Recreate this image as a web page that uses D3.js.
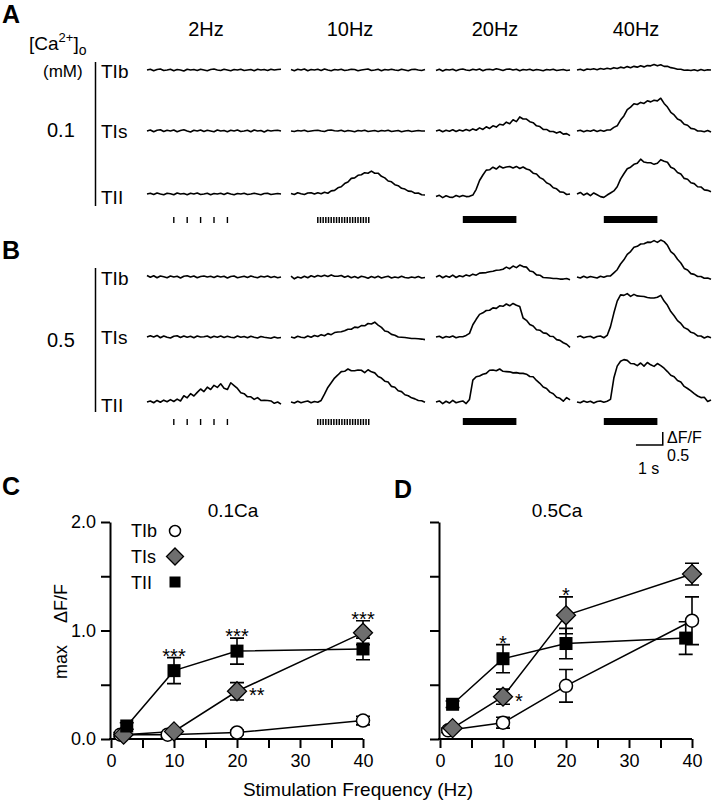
<!DOCTYPE html>
<html><head><meta charset="utf-8">
<script src="https://cdn.jsdelivr.net/npm/d3@7"></script>
<style>
body{margin:0;background:#fff}
svg text{font-family:'Liberation Sans',Arial,Helvetica,sans-serif;fill:#000}
</style></head>
<body><svg id="c" width="714" height="812"></svg>
<script>
// ---------------- DATA ----------------
const frequencies = ["2Hz", "10Hz", "20Hz", "40Hz"];
const cellTypes = ["TIb", "TIs", "TII"];
const traceDuration = 5; // seconds per sweep

// Fluorescence traces (ΔF/F), one array per frequency, 0.1 mM Ca
const ca01_TIb = [
  [0,0.03,-0.03,0.02,0.04,-0.02,0,0.03,-0.03,0.02,0,-0.04,0.03,0,0.02,-0.02,0.03,0,-0.03,0.02,0.04,0,-0.02,0.03,0,-0.03,0.02,0,0.03,-0.02,0,0.02,-0.03,0.03,0,0.02,-0.02,0.03,0,0.02,0.03],
  [0.02,-0.03,0.03,0,0.04,-0.03,0.02,0,0.03,-0.02,0.04,0,-0.03,0.02,0,0.03,-0.02,0,0.03,0.02,-0.03,0,0.02,0.04,-0.02,0,0.03,-0.03,0.02,0,0.03,0,-0.02,0.03,0,-0.03,0.02,0.03,0,-0.02,0.02],
  [-0.02,0.03,-0.04,0.02,0,0.03,-0.03,0.02,0.04,0,-0.02,0.03,0,0.04,-0.03,0.02,0.03,0,0.05,0.02,-0.02,0.03,0.04,0,0.03,-0.03,0.02,0,0.03,-0.02,0.02,0,-0.03,0.02,0,0.03,-0.02,0,0.02,-0.02,0],
  [0,0.03,-0.02,0.04,0.02,0.05,0.01,0.06,0.03,0.07,0.04,0.09,0.06,0.11,0.08,0.13,0.09,0.14,0.11,0.16,0.12,0.17,0.16,0.21,0.16,0.2,0.14,0.14,0.09,0.07,0.03,0.03,-0.01,0,-0.02,0.01,-0.03,0.02,-0.02,0.01,0]
];
const ca01_TIs = [
  [0,0.04,-0.03,0.03,0.05,-0.02,0.03,0,0.04,-0.03,0.02,0.05,0,-0.04,0.03,0,0.04,-0.02,0.03,0,-0.03,0.04,0,0.02,-0.03,0.03,0,0.04,-0.02,0,0.03,-0.03,0.04,0,0.02,-0.04,0.03,0,0.02,0.03,0],
  [0,-0.02,0.02,0,0.03,-0.02,0,0.02,0.03,0,-0.02,0.03,0.04,0.01,0,0.03,-0.02,0.02,0,-0.03,0.02,0,0.03,-0.02,0,0.02,-0.02,0.02,0,0.03,-0.02,0,0.02,-0.03,0,0.02,-0.02,0,0.02,0,0],
  [0,0.04,-0.03,0.03,-0.01,0.05,-0.02,0.04,0,0.06,0.01,0.08,0.03,0.12,0.06,0.16,0.1,0.2,0.15,0.26,0.23,0.34,0.28,0.43,0.36,0.54,0.46,0.46,0.36,0.32,0.2,0.17,0.06,0.06,-0.02,-0.02,-0.08,-0.03,-0.12,-0.1,-0.18],
  [0,0.03,-0.03,0.02,-0.01,0.04,-0.02,0.03,-0.01,0.04,0.04,0.14,0.2,0.42,0.58,0.82,0.92,1.05,1.02,1.1,1.06,1.16,1.12,1.18,1.16,1.26,1.06,0.92,0.72,0.62,0.46,0.4,0.26,0.22,0.1,0.08,0,0,-0.03,0.02,-0.04]
];
const ca01_TII = [
  [0,0.03,-0.02,0.04,0,-0.03,0.03,0.01,-0.03,0.04,0,0.02,-0.03,0.03,0,0.04,-0.02,0,0.03,-0.03,0.02,0,0.03,-0.02,0.04,0,-0.03,0.02,0,0.03,-0.02,0,0.03,0,-0.03,0.02,0.03,-0.02,0,0.02,0],
  [0.02,-0.02,0.05,0.01,-0.02,0.04,0.05,0,0.05,0.01,0.07,0.03,0.12,0.14,0.24,0.28,0.4,0.46,0.6,0.62,0.72,0.74,0.82,0.8,0.88,0.8,0.8,0.68,0.62,0.5,0.47,0.36,0.32,0.22,0.19,0.11,0.1,0.03,0.04,-0.03,-0.04],
  [-0.1,-0.05,-0.14,-0.07,-0.12,-0.13,-0.06,-0.11,-0.06,-0.1,-0.09,-0.04,0.18,0.52,0.73,0.92,0.93,1.03,0.96,1.07,1.0,1.04,1.06,1.0,1.06,0.98,1.04,0.96,0.92,0.8,0.77,0.63,0.57,0.43,0.37,0.24,0.2,0.08,0.07,-0.02,0],
  [0,0.06,-0.04,0.03,-0.06,0.04,-0.03,-0.1,-0.13,-0.04,0.04,0.12,0.28,0.57,0.78,0.97,1.03,1.14,1.18,1.34,1.23,1.2,1.2,1.14,1.18,1.32,1.26,1.22,1.03,0.97,0.83,0.77,0.6,0.57,0.43,0.4,0.28,0.27,0.16,0.14,0.09]
];

// 0.5 mM Ca
const ca05_TIb = [
  [0.06,-0.01,0.05,-0.03,0.04,0.01,-0.03,0.04,0,0.03,-0.04,0.03,0.05,0,0.04,-0.03,0.02,0.04,0,0.03,-0.02,0.04,0,0.03,-0.04,0.02,0.04,-0.03,0,0.03,-0.02,0.04,0,-0.03,0.03,0,0.04,-0.02,0.02,-0.03,0],
  [0.03,-0.07,0,-0.04,0.03,-0.03,0.05,0,0.06,0.02,0.07,0.02,0.08,0.03,0.03,0.06,-0.01,0.04,-0.03,0.02,-0.04,0.03,0,-0.05,0.02,-0.03,0.03,-0.04,0,0.03,-0.04,0,-0.03,0.03,-0.02,-0.04,0,-0.03,0.02,-0.04,-0.02],
  [0,0.06,-0.03,0.04,-0.01,0.07,-0.02,0.05,0.01,0.08,0.04,0.11,0.07,0.15,0.16,0.17,0.2,0.22,0.26,0.27,0.3,0.38,0.32,0.42,0.36,0.46,0.4,0.38,0.23,0.2,0.08,0.07,-0.02,-0.03,-0.04,-0.06,-0.06,-0.08,-0.08,-0.06,-0.11],
  [0,-0.04,0.03,-0.03,0.02,-0.01,-0.04,0.03,-0.01,0.04,0.04,0.16,0.28,0.5,0.66,0.87,0.98,1.14,1.18,1.27,1.28,1.34,1.33,1.4,1.33,1.42,1.36,1.22,0.98,0.87,0.68,0.54,0.33,0.27,0.13,0.1,0.02,0.02,-0.05,-0.04,-0.09]
];
const ca05_TIs = [
  [0,0.05,0,0.06,-0.03,0.04,-0.01,-0.04,0.03,0.05,-0.02,0.04,-0.01,0.03,-0.03,0.04,0,0.01,0.04,-0.03,0.03,-0.01,0.04,-0.02,0.03,-0.01,-0.03,0.04,-0.01,0.02,-0.03,0.03,-0.01,-0.04,0.02,-0.01,-0.03,-0.05,0,-0.04,-0.02],
  [0,-0.04,0.03,-0.01,-0.03,0.04,-0.01,0.06,0.02,0.09,0.05,0.13,0.09,0.17,0.19,0.2,0.24,0.3,0.3,0.38,0.36,0.44,0.43,0.52,0.5,0.57,0.46,0.37,0.23,0.2,0.1,0.07,0,-0.01,-0.02,-0.04,-0.06,-0.06,-0.07,-0.08,-0.1],
  [0,0.03,-0.04,0.02,-0.01,0.04,-0.03,0.01,0.01,0.06,0.14,0.47,0.68,0.87,0.93,1.02,1.03,1.12,1.1,1.2,1.18,1.27,1.2,1.29,1.22,1.17,0.73,0.64,0.48,0.42,0.28,0.26,0.16,0.14,0.03,0.02,-0.1,-0.13,-0.22,-0.28,-0.4],
  [0,0.04,-0.03,0.01,0.03,-0.04,0.02,0.04,-0.03,0.06,0.4,0.92,1.38,1.62,1.6,1.67,1.56,1.64,1.58,1.57,1.56,1.52,1.5,1.5,1.53,1.6,1.38,1.22,0.98,0.82,0.63,0.52,0.36,0.3,0.18,0.14,0.04,0.04,-0.04,0.02,-0.03]
];
const ca05_TII = [
  [0,0.04,-0.03,0.06,-0.01,0.07,0.01,0.09,0.02,0.11,0.04,0.24,0.16,0.32,0.23,0.37,0.5,0.4,0.57,0.48,0.64,0.56,0.7,0.53,0.48,0.74,0.63,0.52,0.36,0.32,0.2,0.2,0.1,0.17,0.06,0.07,0.06,0.04,-0.05,0,-0.08],
  [0,-0.04,0.03,-0.03,0.01,0.04,-0.03,0.02,-0.01,0.06,0.3,0.56,0.74,0.92,1.04,1.17,1.18,1.27,1.2,1.2,1.23,1.22,1.13,1.24,1.16,1.12,0.98,0.92,0.8,0.77,0.6,0.57,0.43,0.4,0.28,0.24,0.16,0.12,0.06,0.05,-0.01],
  [0,0.04,-0.06,0.03,-0.04,0.06,-0.03,0.01,0.04,-0.06,0.1,0.84,0.97,1.0,1.07,1.1,1.22,1.23,1.2,1.27,1.18,1.17,1.16,1.12,1.13,1.1,1.1,1.07,0.98,0.97,0.83,0.72,0.58,0.52,0.38,0.32,0.18,0.14,0.03,0.17,0.08],
  [0,-0.03,0.04,-0.01,0.03,-0.04,0.02,0.04,-0.01,0.03,0.1,0.92,1.38,1.57,1.63,1.6,1.48,1.47,1.4,1.5,1.38,1.52,1.43,1.37,1.48,1.4,1.3,1.17,1.03,0.97,0.83,0.77,0.6,0.52,0.43,0.32,0.23,0.17,0.18,0.02,0.08]
];

// Stimulus timing (s)
const stim2Hz = [1, 1.5, 2, 2.5, 3];
const stim10Hz = [1,1.1,1.2,1.3,1.4,1.5,1.6,1.7,1.8,1.9,2,2.1,2.2,2.3,2.4,2.5,2.6,2.7,2.8,2.9];
const stimTrain = [1, 3]; // 20 Hz and 40 Hz drawn as bars

// Summary (max ΔF/F), panel C: 0.1 Ca
const c_TIb_f = [1.5, 9, 20, 40], c_TIb_mean = [0.04, 0.04, 0.06, 0.17], c_TIb_sem = [0.02, 0.02, 0.02, 0.04];
const c_TIs_f = [2, 10, 20, 40],  c_TIs_mean = [0.04, 0.07, 0.44, 0.98], c_TIs_sem = [0.02, 0.02, 0.08, 0.11];
const c_TII_f = [2.5, 10, 20, 40], c_TII_mean = [0.12, 0.63, 0.81, 0.83], c_TII_sem = [0.03, 0.12, 0.12, 0.10];
// panel D: 0.5 Ca
const d_TIb_f = [1.3, 10, 20, 40], d_TIb_mean = [0.08, 0.15, 0.49, 1.09], d_TIb_sem = [0.02, 0.05, 0.15, 0.22];
const d_TIs_f = [2, 10, 20, 40],   d_TIs_mean = [0.10, 0.39, 1.14, 1.52], d_TIs_sem = [0.02, 0.07, 0.17, 0.10];
const d_TII_f = [2, 10, 20, 39],   d_TII_mean = [0.32, 0.74, 0.88, 0.93], d_TII_sem = [0.03, 0.13, 0.14, 0.15];

// significance marks: [label, series, point index, placement]
const sigC = [["***","TII",1,"top"],["***","TII",2,"top"],["***","TIs",3,"top"],["**","TIs",2,"right"]];
const sigD = [["*","TII",1,"top"],["*","TIs",2,"top"],["*","TIs",1,"right"]];

const yTicks = [0, 0.5, 1, 1.5, 2];
const yTickLabels = [0, 1, 2];
const xTicks = [0, 5, 10, 15, 20, 25, 30, 35, 40];
const xTickLabels = [0, 10, 20, 30, 40];

// ---------------- DRAWING ----------------
const svg = d3.select("#c");
const colX = [147, 291, 436, 577], colW = 134, pxPerUnit = 26;

function txt(x, y, s, size, opts = {}) {
  const t = svg.append("text").attr("x", x).attr("y", y).attr("font-size", size).attr("fill", "#000").text(s);
  if (opts.anchor) t.attr("text-anchor", opts.anchor);
  if (opts.bold) t.attr("font-weight", "bold");
  return t;
}
const tScale = ci => d3.scaleLinear().domain([0, traceDuration]).range([colX[ci], colX[ci] + colW]);

function drawTraces(rowBase, dataByType) {
  cellTypes.forEach(ct => {
    dataByType[ct].forEach((vals, ci) => {
      const x = tScale(ci);
      const y = d3.scaleLinear().domain([0, 1]).range([rowBase[ct], rowBase[ct] - pxPerUnit]);
      const n = vals.length;
      const line = d3.line().x((d, i) => x(i * traceDuration / (n - 1))).y(d => y(d));
      svg.append("path").attr("d", line(vals)).attr("fill", "none")
        .attr("stroke", "#000").attr("stroke-width", 1.6).attr("stroke-linejoin", "round");
    });
  });
}
function drawStim(yTop) {
  const x0 = tScale(0);
  stim2Hz.forEach(t => svg.append("line").attr("x1", x0(t)).attr("x2", x0(t))
    .attr("y1", yTop).attr("y2", yTop + 6).attr("stroke", "#000").attr("stroke-width", 1.4));
  const x1 = tScale(1);
  stim10Hz.forEach(t => svg.append("line").attr("x1", x1(t)).attr("x2", x1(t))
    .attr("y1", yTop).attr("y2", yTop + 6).attr("stroke", "#000").attr("stroke-width", 1.5));
  [2, 3].forEach(ci => {
    const x = tScale(ci);
    svg.append("rect").attr("x", x(stimTrain[0])).attr("width", x(stimTrain[1]) - x(stimTrain[0]))
      .attr("y", yTop - 1).attr("height", 7).attr("fill", "#000");
  });
}
function rowLabels(base, lineTop, lineBot, conc, concY) {
  svg.append("line").attr("x1", 95.5).attr("x2", 95.5).attr("y1", lineTop).attr("y2", lineBot)
    .attr("stroke", "#000").attr("stroke-width", 1.5);
  txt(101, base.TIb + 8, "TIb", 19);
  txt(101, base.TIs + 7, "TIs", 19);
  txt(101, base.TII + 10, "TII", 19);
  txt(47, concY, conc, 20);
}

// Panel A
txt(2, 23, "A", 25, {bold: true});
frequencies.forEach((f, i) => txt(colX[i] + 59, 36, f, 20, {anchor: "middle"}));
const caLbl = txt(29, 50, "[Ca", 19);
caLbl.append("tspan").attr("dy", -8).attr("font-size", 13).text("2+");
caLbl.append("tspan").attr("dy", 8).text("]");
caLbl.append("tspan").attr("dy", 5).attr("font-size", 14).text("o");
txt(43, 77, "(mM)", 17);
const rowsA = {TIb: 70, TIs: 131, TII: 194};
rowLabels(rowsA, 62, 206, "0.1", 137);
drawTraces(rowsA, {TIb: ca01_TIb, TIs: ca01_TIs, TII: ca01_TII});
drawStim(217);

// Panel B
txt(2, 259, "B", 25, {bold: true});
const rowsB = {TIb: 277, TIs: 337, TII: 402};
rowLabels(rowsB, 268, 412, "0.5", 347);
drawTraces(rowsB, {TIb: ca05_TIb, TIs: ca05_TIs, TII: ca05_TII});
drawStim(419);

// scale bar
{
  const x = tScale(3);
  const xr = x(3.2), xl = x(2.2), yb = 445;
  svg.append("path").attr("d", `M${xl},${yb}H${xr}V${yb - 0.5 * pxPerUnit}`)
    .attr("fill", "none").attr("stroke", "#000").attr("stroke-width", 1.5);
  txt(667, 443, "ΔF/F", 16);
  txt(667, 461, "0.5", 16);
  txt(638, 474, "1 s", 16);
}

// Panels C & D
function drawSummary(xr, title, titleX, series, sig, showYLabels) {
  const x = d3.scaleLinear().domain([0, 40]).range(xr);
  const y = d3.scaleLinear().domain([0, 2]).range([739, 522]);
  const g = svg.append("g");
  const ya = d3.axisLeft(y).tickValues(yTicks).tickSize(9).tickSizeOuter(0).tickPadding(5)
    .tickFormat(d => showYLabels && yTickLabels.includes(d) ? d3.format(".1f")(d) : "");
  const xa = d3.axisBottom(x).tickValues(xTicks).tickSize(9).tickSizeOuter(0).tickPadding(6)
    .tickFormat(d => xTickLabels.includes(d) ? d : "");
  const gy = g.append("g").attr("transform", `translate(${xr[0] - 1},0)`).call(ya);
  const gx = g.append("g").attr("transform", `translate(0,739)`).call(xa);
  [gx, gy].forEach(a => {
    a.select(".domain").attr("stroke-width", 2);
    a.selectAll(".tick line").attr("stroke-width", 2);
    a.selectAll(".tick text").attr("font-size", 18).attr("font-family", null).attr("fill", "#000");
  });
  gx.select(".domain").attr("d", `M${xr[0] - 2},0H${xr[1]}`);
  txt(titleX, 517, title, 19, {anchor: "middle"});

  const sq = 13, dia = 9.5, cr = 6.5;
  series.forEach(s => {
    const pts = s.f.map((f, i) => ({f, m: s.mean[i], e: s.sem[i]}));
    g.append("path").attr("d", d3.line().x(d => x(d.f)).y(d => y(d.m))(pts))
      .attr("fill", "none").attr("stroke", "#000").attr("stroke-width", 1.5);
    pts.forEach(p => {
      const cx = x(p.f);
      g.append("path").attr("d", `M${cx},${y(p.m - p.e)}V${y(p.m + p.e)}M${cx - 7},${y(p.m + p.e)}H${cx + 7}M${cx - 7},${y(p.m - p.e)}H${cx + 7}`)
        .attr("stroke", "#000").attr("stroke-width", 1.6).attr("fill", "none");
    });
  });
  series.forEach(s => {
    s.f.forEach((f, i) => drawMarker(g, s.name, x(f), y(s.mean[i]), sq, dia, cr));
  });
  sig.forEach(([lab, name, idx, where]) => {
    const s = series.find(q => q.name === name);
    const cx = x(s.f[idx]);
    if (where === "top") txt(cx, y(s.mean[idx] + s.sem[idx]) + 5, lab, 20, {anchor: "middle"});
    else txt(cx + 12, y(s.mean[idx]) + 11, lab, 20);
  });
}
function drawMarker(g, name, cx, cy, sq, dia, cr) {
  if (name === "TIb") g.append("circle").attr("cx", cx).attr("cy", cy).attr("r", cr)
    .attr("fill", "#fff").attr("stroke", "#000").attr("stroke-width", 1.5);
  else if (name === "TIs") g.append("path")
    .attr("d", `M${cx},${cy - dia}L${cx + dia},${cy}L${cx},${cy + dia}L${cx - dia},${cy}Z`)
    .attr("fill", "#6e6e6e").attr("stroke", "#000").attr("stroke-width", 1.3);
  else g.append("rect").attr("x", cx - sq / 2).attr("y", cy - sq / 2).attr("width", sq).attr("height", sq).attr("fill", "#000");
}

txt(2, 495, "C", 25, {bold: true});
drawSummary([111, 363], "0.1Ca", 233, [
  {name: "TIb", f: c_TIb_f, mean: c_TIb_mean, sem: c_TIb_sem},
  {name: "TIs", f: c_TIs_f, mean: c_TIs_mean, sem: c_TIs_sem},
  {name: "TII", f: c_TII_f, mean: c_TII_mean, sem: c_TII_sem}
], sigC, true);
txt(394, 498, "D", 25, {bold: true});
drawSummary([440, 692], "0.5Ca", 557, [
  {name: "TIb", f: d_TIb_f, mean: d_TIb_mean, sem: d_TIb_sem},
  {name: "TIs", f: d_TIs_f, mean: d_TIs_mean, sem: d_TIs_sem},
  {name: "TII", f: d_TII_f, mean: d_TII_mean, sem: d_TII_sem}
], sigD, false);

// legend (panel C)
cellTypes.forEach((ct, i) => {
  txt(131, 537 + i * 26, ct, 18);
  drawMarker(svg, ct, 175, 531 + i * 25.5, 11, 8.5, 5.5);
});

// axis titles
svg.append("text").attr("transform", "translate(67,679) rotate(-90)").attr("font-size", 18).attr("fill", "#000").text("max");
svg.append("text").attr("transform", "translate(67,623) rotate(-90)").attr("font-size", 18).attr("fill", "#000").text("ΔF/F");
txt(358, 796, "Stimulation Frequency (Hz)", 19, {anchor: "middle"});
</script></body></html>
